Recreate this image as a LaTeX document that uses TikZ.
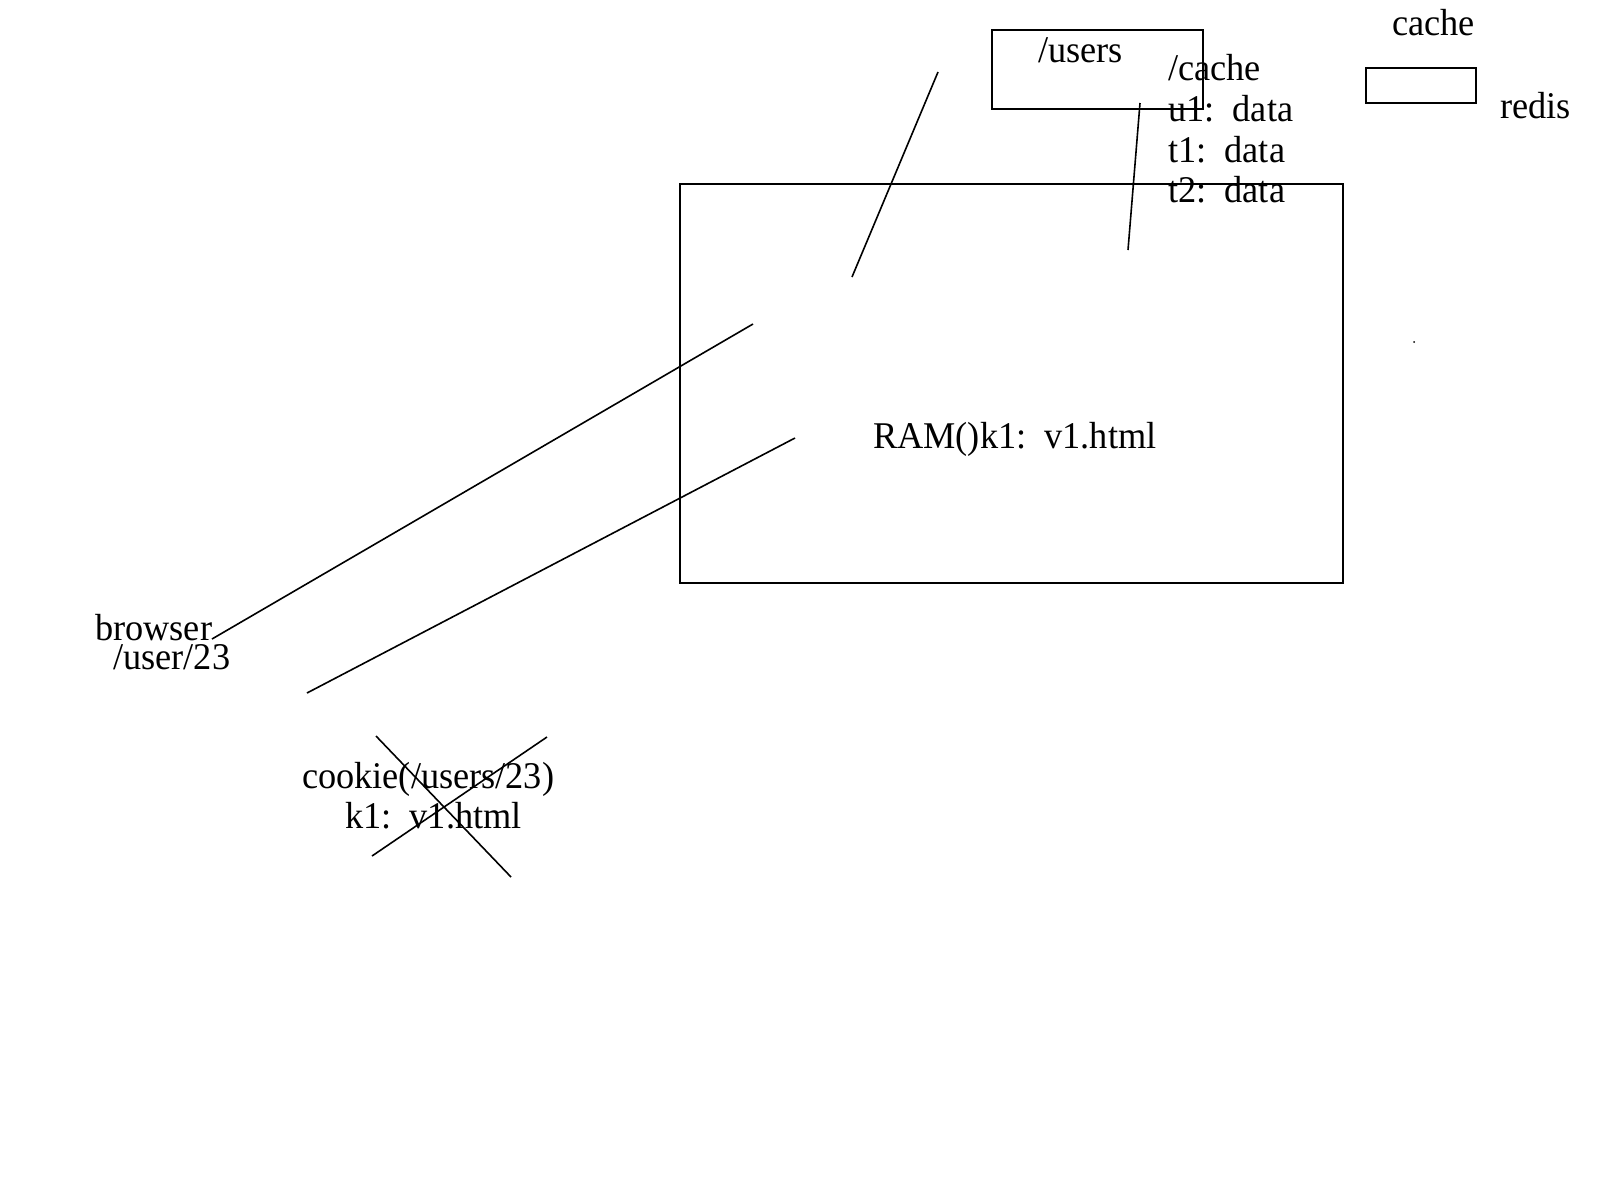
\documentclass[tikz,border=0pt]{standalone}
\usepackage{fontspec}
\setmainfont{Liberation Serif}
\begin{document}
\begin{tikzpicture}[x=1pt,y=-1pt,
  lbl/.style={inner sep=0pt,anchor=base west,yscale=1.04,font=\fontsize{36.3}{41}\selectfont},
  boxline/.style={draw=black,line width=2pt},
  stroke/.style={draw=black,line width=1.6pt}]
\useasboundingbox (0,0) rectangle (1600,1200);
% boxes
\draw[boxline] (992,30) rectangle (1203,109);
\draw[boxline] (1366,68) rectangle (1476,103);
\draw[boxline] (680,184) rectangle (1343,583);
% labels
\node[lbl] (users) at (1038,62) {/users};
\node[lbl] (cachepath) at (1168,80) {/cache};
\node[lbl] (u1) at (1168,121) {u1:\ \ data};
\node[lbl] (t1) at (1168,162) {t1:\ \ data};
\node[lbl] (t2) at (1168,202) {t2:\ \ data};
\node[lbl] (cache) at (1392,35) {cache};
\node[lbl] (redis) at (1500,118) {redis};
\node[lbl] (ram) at (873,448) {RAM()k1:\ \ v1.html};
\node[lbl] (browser) at (95,640) {browser};
\node[lbl] (userpath) at (113,669) {/user/23};
\node[lbl] (cookie) at (302,788) {cookie(/users/23)};
\node[lbl] (cookiekv) at (345,828) {k1:\ \ v1.html};
% dot
\fill (1414,342) circle (1pt);
% line end points
\coordinate (a1) at (938,72);  \coordinate (a2) at (852,277);
\coordinate (b1) at (1140,103); \coordinate (b2) at (1128,250);
\coordinate (c1) at (753,324); \coordinate (c2) at (212,639);
\coordinate (d1) at (795,438); \coordinate (d2) at (307,693);
\coordinate (x1) at (376,736); \coordinate (x2) at (511,877);
\coordinate (y1) at (547,737); \coordinate (y2) at (372,856);
\draw[stroke] (a1) -- (a2);
\draw[stroke] (b1) -- (b2);
\draw[stroke] (c1) -- (c2);
\draw[stroke] (d1) -- (d2);
\draw[stroke] (x1) -- (x2);
\draw[stroke] (y1) -- (y2);
\end{tikzpicture}
\end{document}
